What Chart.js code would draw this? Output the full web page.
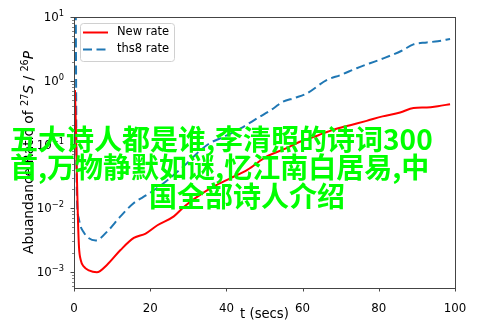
<!DOCTYPE html>
<html>
<head>
<meta charset="utf-8">
<script src="https://cdn.jsdelivr.net/npm/chart.js@4/dist/chart.umd.min.js"></script>
<style>
  html, body { margin: 0; padding: 0; background: #fff; }
  #wrap { position: relative; width: 493px; height: 329px; }
  canvas { display: block; }
  #overlay {
    position: absolute; left: 0; top: 0; width: 493px; height: 329px;
    pointer-events: none;
    font-family: "Noto Sans CJK SC", sans-serif;
    font-weight: bold; font-size: 28px; line-height: 28px; color: #00ff00;
  }
  .ln { position: absolute; white-space: nowrap; }
</style>
</head>
<body>
<div id="wrap">
  <canvas id="c" width="493" height="329"></canvas>
  <div id="overlay">
    <div class="ln" style="left:10px; top:124px;">五大诗人都是谁,李清照的诗词300</div>
    <div class="ln" style="left:10px; top:152px;">首,万物静默如谜,忆江南白居易,中</div>
    <div class="ln" style="left:149px; top:181px;">国全部诗人介绍</div>
  </div>
</div>
<script>
// ---- data ----
const seriesLabels = ["New rate", "ths8 rate"];
const timeNew  = [0.25, 0.45, 0.7, 1.0, 1.3, 1.8, 2.6, 3.9, 6.0, 8.7, 12.2, 15.7, 18.8, 21.9, 26.2, 28.9, 32.4, 36.7, 41.1, 45.5, 50.6, 55, 59.3, 64, 68.1, 72.5, 76.8, 81, 85.6, 89.1, 92.6, 95.5, 98.7];
const rateNew  = [0.71, 0.25, 0.045, 0.008, 0.0025, 0.0015, 0.0012, 0.00105, 0.00098, 0.00129, 0.00219, 0.00339, 0.00398, 0.00537, 0.00741, 0.0105, 0.0151, 0.0219, 0.0295, 0.0398, 0.0646, 0.0832, 0.11, 0.138, 0.17, 0.2, 0.234, 0.275, 0.316, 0.372, 0.38, 0.398, 0.427];
const timeThs8 = [0.45, 0.55, 0.65, 0.8, 1.2, 1.75, 2.5, 3.5, 5.7, 8.75, 12.2, 15.7, 19.2, 23.5, 28.7, 33, 35.7, 39.4, 43.7, 48.1, 52.5, 54.5, 58, 61.1, 66.3, 70, 74.2, 77.5, 81.2, 86, 89.1, 92.6, 95.5, 98.7];
const rateThs8 = [20, 1.0, 0.063, 0.0126, 0.0071, 0.0051, 0.0042, 0.0035, 0.0031, 0.0043, 0.0074, 0.012, 0.0162, 0.0245, 0.0447, 0.079, 0.105, 0.132, 0.178, 0.257, 0.372, 0.457, 0.537, 0.631, 1.02, 1.23, 1.57, 1.86, 2.24, 2.95, 3.72, 3.98, 4.17, 4.52];
const xTicks = [0, 20, 40, 60, 80, 100];
const yMajorTicks = [1e-3, 1e-2, 1e-1, 1, 10];
const yTickBase = "10";
const yTickExponents = ["−3", "−2", "−1", "0", "1"];
const xTitle = "t (secs)";
// [text, italic, superscript]
const yTitleParts = [["Abuandance Ratio of ", false, false], ["27", false, true], ["S", true, false], [" / ", false, false], ["26", false, true], ["P", true, false]];

const FONT = "DejaVu Sans";
const yMinorTicks = [];
[1e-4, 1e-3, 1e-2, 1e-1, 1].forEach(d => { for (let k = 2; k <= 9; k++) yMinorTicks.push(+(d * k).toPrecision(3)); });

const toXY = (xs, ys) => xs.map((x, i) => ({ x: x, y: ys[i] }));
const fnt = (size, italic) => (italic ? 'italic ' : '') + size + 'px "' + FONT + '"';

const framePlugin = {
  id: 'frameTicks',
  afterDraw(chart) {
    const ctx = chart.ctx, a = chart.chartArea;
    const xs = chart.scales.x, ys = chart.scales.y;
    ctx.save();
    ctx.strokeStyle = '#333';
    ctx.lineWidth = 0.9;
    // ticks
    ctx.beginPath();
    xTicks.forEach(v => { const p = Math.round(xs.getPixelForValue(v)) + 0.5; ctx.moveTo(p, a.bottom); ctx.lineTo(p, a.bottom + 3.5); });
    yMajorTicks.forEach(v => { const p = Math.round(ys.getPixelForValue(v)) + 0.5; ctx.moveTo(a.left, p); ctx.lineTo(a.left - 3.5, p); });
    ctx.stroke();
    ctx.lineWidth = 0.6;
    ctx.beginPath();
    yMinorTicks.forEach(v => {
      if (v < ys.min || v > ys.max) return;
      const p = Math.round(ys.getPixelForValue(v)) + 0.5; ctx.moveTo(a.left, p); ctx.lineTo(a.left - 2, p);
    });
    ctx.stroke();
    // frame
    ctx.lineWidth = 1;
    ctx.strokeStyle = '#444';
    ctx.strokeRect(Math.round(a.left) + 0.5, Math.round(a.top) + 0.5, Math.round(a.right - a.left), Math.round(a.bottom - a.top));
    // y tick labels: 10 with superscript exponent
    ctx.fillStyle = '#000';
    ctx.textBaseline = 'alphabetic';
    ctx.textAlign = 'left';
    yMajorTicks.forEach((v, i) => {
      const p = ys.getPixelForValue(v);
      ctx.font = fnt(8.3, false);
      const ew = ctx.measureText(yTickExponents[i]).width;
      ctx.font = fnt(11.8, false);
      const bw = ctx.measureText(yTickBase).width;
      const right = a.left - 10;
      const base = p + 4.3;
      ctx.fillText(yTickBase, right - ew - bw, base);
      ctx.font = fnt(8.3, false);
      ctx.fillText(yTickExponents[i], right - ew, base - 5);
    });
    // axis titles
    ctx.font = fnt(13.2, false);
    ctx.textAlign = 'center';
    ctx.textBaseline = 'middle';
    ctx.fillText(xTitle, (a.left + a.right) / 2, 315);
    // y title (rotated, mixed italic + superscripts)
    const TS = 13.8;
    const widths = yTitleParts.map(([t, it, sup]) => { ctx.font = fnt(sup ? TS * 0.7 : TS, it); return ctx.measureText(t).width; });
    const total = widths.reduce((s, w) => s + w, 0);
    ctx.translate(33, (a.top + a.bottom) / 2);
    ctx.rotate(-Math.PI / 2);
    ctx.textAlign = 'left';
    ctx.textBaseline = 'alphabetic';
    let cx = -total / 2;
    yTitleParts.forEach(([t, it, sup], i) => {
      ctx.font = fnt(sup ? TS * 0.7 : TS, it);
      ctx.fillText(t, cx, sup ? -5.5 : 0);
      cx += widths[i];
    });
    ctx.restore();
    // legend
    ctx.save();
    const lx = 80.5, ly = 23.5, lw = 94, lh = 38, r = 3;
    ctx.beginPath();
    ctx.moveTo(lx + r, ly); ctx.lineTo(lx + lw - r, ly); ctx.arcTo(lx + lw, ly, lx + lw, ly + r, r);
    ctx.lineTo(lx + lw, ly + lh - r); ctx.arcTo(lx + lw, ly + lh, lx + lw - r, ly + lh, r);
    ctx.lineTo(lx + r, ly + lh); ctx.arcTo(lx, ly + lh, lx, ly + lh - r, r);
    ctx.lineTo(lx, ly + r); ctx.arcTo(lx, ly, lx + r, ly, r); ctx.closePath();
    ctx.fillStyle = 'rgba(255,255,255,0.8)'; ctx.fill();
    ctx.strokeStyle = '#d0d0d0'; ctx.lineWidth = 1; ctx.stroke();
    chart.data.datasets.forEach((ds, i) => {
      const yy = 32.5 + i * 17;
      ctx.strokeStyle = ds.borderColor; ctx.lineWidth = 2;
      ctx.setLineDash(ds.borderDash || []);
      ctx.beginPath(); ctx.moveTo(83, yy); ctx.lineTo(108, yy); ctx.stroke();
      ctx.setLineDash([]);
      ctx.fillStyle = '#000'; ctx.font = fnt(11.5, false);
      ctx.textAlign = 'left'; ctx.textBaseline = 'middle';
      ctx.fillText(ds.label, 117, yy);
    });
    ctx.restore();
  }
};

new Chart(document.getElementById('c'), {
  type: 'line',
  data: {
    datasets: [
      { label: seriesLabels[0], data: toXY(timeNew, rateNew), borderColor: '#ff0000', borderWidth: 2, pointRadius: 0, fill: false, cubicInterpolationMode: 'monotone' },
      { label: seriesLabels[1], data: toXY(timeThs8, rateThs8), borderColor: '#1f77b4', borderWidth: 2, borderDash: [9, 4.5], pointRadius: 0, fill: false, cubicInterpolationMode: 'monotone' }
    ]
  },
  options: {
    responsive: false,
    devicePixelRatio: 1,
    animation: false,
    layout: { padding: { left: 0, right: 38, top: 17, bottom: 0 } },
    plugins: { legend: { display: false }, tooltip: { enabled: false } },
    scales: {
      x: {
        type: 'linear', min: 0, max: 100,
        afterBuildTicks: s => { s.ticks = xTicks.map(v => ({ value: v })); },
        afterFit: s => { s.height = 41; },
        grid: { display: false },
        border: { display: false },
        ticks: { color: '#000', font: { family: FONT, size: 11.8 }, padding: 6, maxRotation: 0, callback: v => String(v) }
      },
      y: {
        type: 'logarithmic', min: 5.55e-4, max: 10,
        afterBuildTicks: s => { s.ticks = yMajorTicks.map(v => ({ value: v, major: true })); },
        afterFit: s => { s.width = 74; },
        grid: { display: false },
        border: { display: false },
        ticks: { display: false }
      }
    }
  },
  plugins: [framePlugin]
});
</script>
</body>
</html>
